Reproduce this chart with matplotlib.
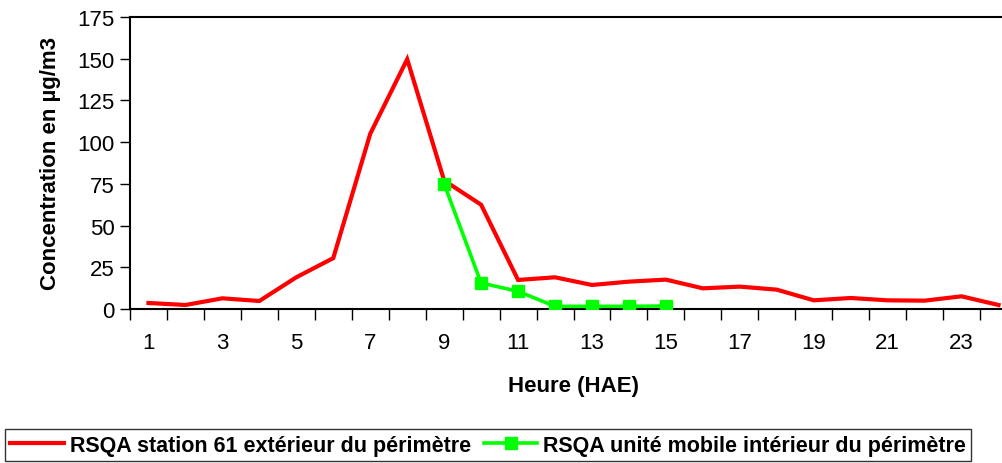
import matplotlib
matplotlib.use('Agg')
import matplotlib.pyplot as plt
from matplotlib.ticker import FixedLocator, NullFormatter

plt.rcParams['font.family'] = ['Liberation Sans', 'DejaVu Sans']

hours = list(range(1, 25))
station61 = [3.6, 2.4, 6.4, 4.8, 19, 30.5, 105, 149.7, 77, 62.5, 17.4, 19,
             14.4, 16.4, 17.6, 12.4, 13.4, 11.6, 5.2, 6.6, 5.2, 5.0, 7.6, 2.4]
mobile_hours = [9, 10, 11, 12, 13, 14, 15]
mobile = [75, 15.6, 10.6, 1.6, 1.6, 1.6, 1.8]
xlabels = [str(h) for h in range(1, 24, 2)]

fig = plt.figure(figsize=(10.02, 4.64), dpi=100)
ax = fig.add_axes([130 / 1002, 1 - 310 / 464, 887 / 1002, 292 / 464])

l1, = ax.plot(hours, station61, color='#ff0000', lw=3, solid_joinstyle='miter',
              label='RSQA station 61 extérieur du périmètre', zorder=2)
l2, = ax.plot(mobile_hours, mobile, color='#00ff00', lw=2.6, marker='s', markersize=9,
              label='RSQA unité mobile intérieur du périmètre', zorder=3)

ax.set_xlim(0.5, 24.5)
ax.set_ylim(0, 175)
ax.set_yticks(range(0, 176, 25))
ax.xaxis.set_major_locator(FixedLocator([h + 0.5 for h in range(0, 25)]))
ax.xaxis.set_major_formatter(NullFormatter())
ax.xaxis.set_minor_locator(FixedLocator(list(range(1, 24, 2))))
ax.set_xticklabels(xlabels, minor=True)
ax.tick_params(axis='x', which='major', direction='out', length=8, width=1, color='black')
ax.tick_params(axis='x', which='minor', length=0, pad=16.5, labelsize=16)
ax.tick_params(axis='y', direction='out', length=7, width=1, labelsize=16, pad=4)

for s in ax.spines.values():
    s.set_linewidth(1.5)
    s.set_color('black')

ax.set_xlabel('Heure (HAE)', fontsize=16, fontweight='bold', labelpad=16)
ax.set_ylabel('Concentration en µg/m3', fontsize=16, fontweight='bold', labelpad=12)

leg = fig.legend(handles=[l1, l2], loc='lower left', bbox_to_anchor=(5 / 1002, 2 / 464),
                 ncol=2, frameon=True, fancybox=False, edgecolor='black',
                 prop={'weight': 'bold', 'size': 15.5}, handlelength=2.5,
                 handletextpad=0.25, columnspacing=0.6, borderpad=0.25, borderaxespad=0)
leg.get_frame().set_linewidth(1)

fig.savefig('out.png', dpi=100)
